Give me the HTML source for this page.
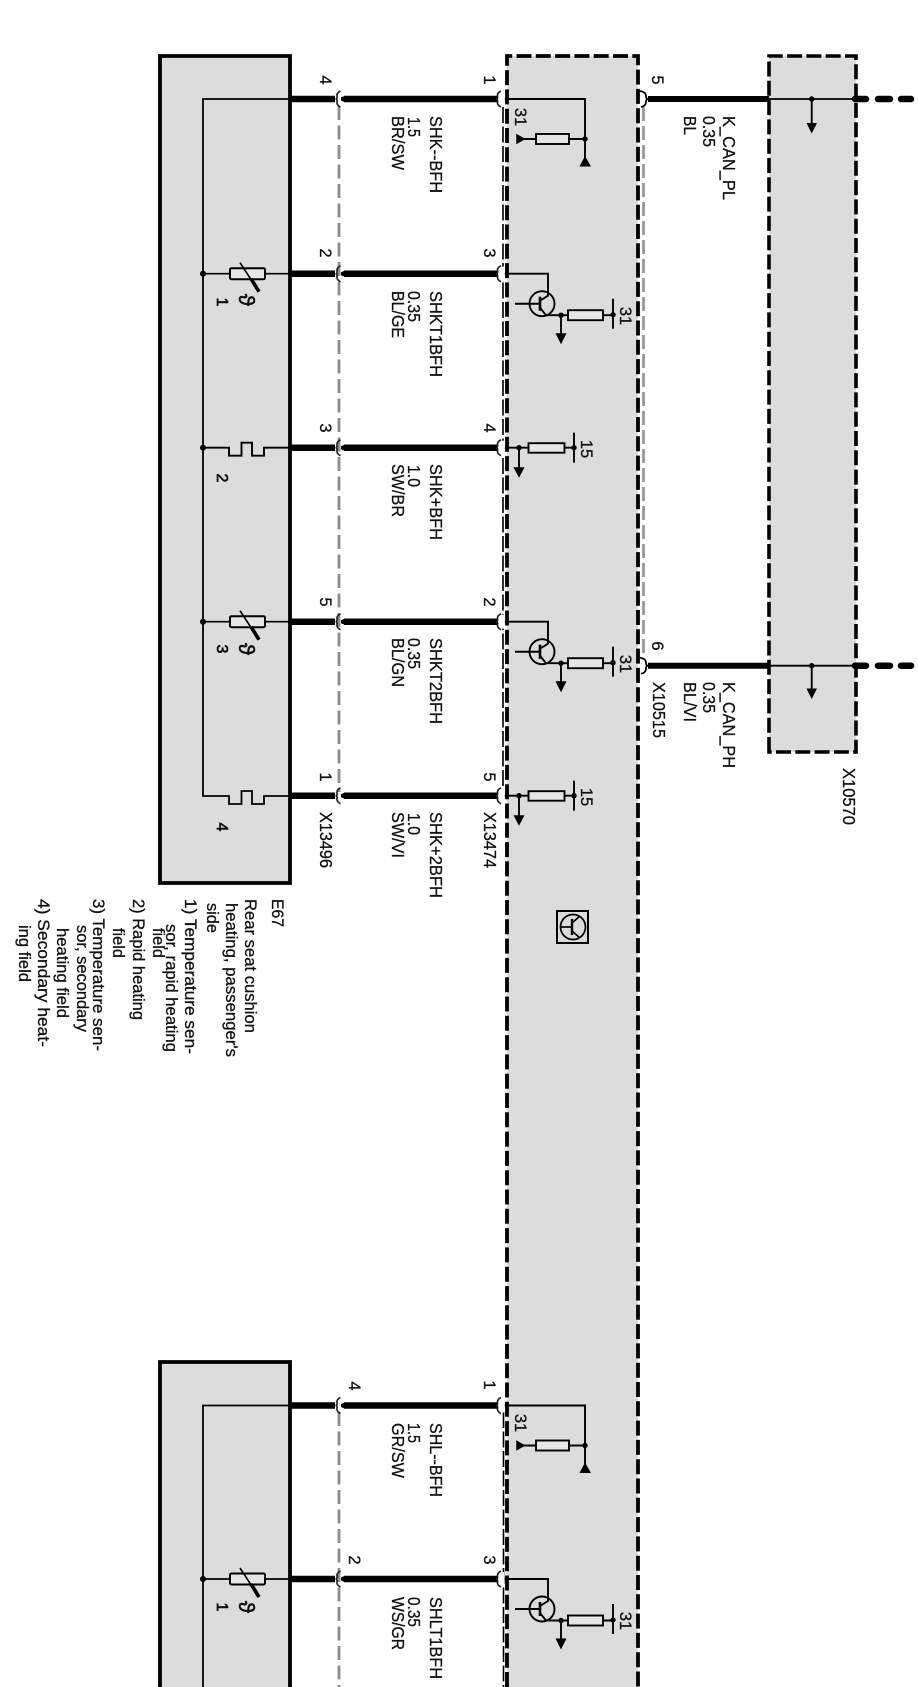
<!DOCTYPE html>
<html><head><meta charset="utf-8"><style>
html,body{margin:0;padding:0;background:#fff}
svg{display:block;filter:blur(.35px)}
text{font-family:"Liberation Sans",sans-serif;font-size:17.5px;fill:#111;stroke:#111;stroke-width:.3}
.p{font-size:16.5px;text-anchor:middle}
.e{font-size:16px;text-anchor:middle;stroke-width:.7}
.s{font-size:22px;text-anchor:middle;stroke-width:.6}
.l{font-size:16.5px}
</style></head><body>
<svg width="918" height="1687" viewBox="0 0 918 1687" xmlns="http://www.w3.org/2000/svg">
<defs>
<g id="lc"><path d="M290 0H335" stroke="#000" stroke-width="6.500"/><path d="M344 0H498" stroke="#000" stroke-width="6.500"/><path d="M341 -1.500L345 -3.200V3.200L341 1.500Z" fill="#000"/><path d="M340.500 -8Q336.500 -6 337 -3Q337.500 0 335.500 0Q337.500 0 337 3Q336.500 6 340.500 8" fill="none" stroke="#222" stroke-width="1.700"/></g>
<g id="rc"><path d="M502 -7V7" stroke="#fff" stroke-width="4"/><path d="M501 -8Q497 -6 497.500 -3Q498 0 496 0Q498 0 497.500 3Q497 6 501 8" fill="none" stroke="#222" stroke-width="1.700"/></g>
<g id="th" fill="none" stroke="#000">
<circle cx="203" cy="0" r="3" fill="#000" stroke="none"/><path d="M203 0H290" stroke-width="1.700"/>
<rect x="230" y="-5.500" width="35" height="11" rx="1.500" fill="#e6e6e6" stroke-width="2"/>
<path d="M240 -11L259 18" stroke-width="1.600"/><path d="M251 5L259 18" stroke-width="3.600"/>
</g>
<g id="hf" fill="none" stroke="#000" stroke-width="1.900">
<circle cx="203" cy="0" r="3" fill="#000" stroke="none"/><path d="M203 0H229V8H241.500V-5H252V8H264V0H290"/>
</g>
<g id="tr" fill="none" stroke="#000" stroke-width="1.900">
<circle cx="507" cy="0" r="2.300" fill="#000" stroke="none"/><path d="M507 0H548V22L540 27"/>
<circle cx="542" cy="30" r="12.500"/><path d="M515 30H540" stroke-width="2"/><path d="M540 23V37" stroke-width="2.600"/><path d="M540 34L546 41.500H561"/>
<circle cx="561" cy="41.500" r="2.700" fill="#000" stroke="none"/><path d="M561 41.500V60"/><path d="M555.500 59.500H566.500L561 70.500Z" fill="#000" stroke="none"/>
<path d="M561 41.500H613"/><rect x="568" y="36.500" width="35" height="10" fill="#e6e6e6" stroke-width="1.900"/>
<path d="M613 25V55"/><circle cx="613" cy="41" r="2.700" fill="#000" stroke="none"/>
</g>
<g id="r15" fill="none" stroke="#000" stroke-width="1.900">
<circle cx="507" cy="0" r="2.300" fill="#000" stroke="none"/><path d="M507 0H574"/><circle cx="519" cy="0" r="2.700" fill="#000" stroke="none"/>
<path d="M519 0V20"/><path d="M513.500 19.500H524.500L519 30Z" fill="#000" stroke="none"/>
<rect x="528.500" y="-4.500" width="36" height="9.500" fill="#e6e6e6"/><path d="M574 -15V15"/><circle cx="574" cy="0" r="2.700" fill="#000" stroke="none"/>
</g>
<g id="gnd" fill="none" stroke="#000" stroke-width="1.900">
<circle cx="507" cy="0" r="2.300" fill="#000" stroke="none"/><path d="M507 0H585V62"/><circle cx="585" cy="40" r="2.700" fill="#000" stroke="none"/>
<path d="M579.500 67.500L585 57L591 67.500Z" fill="#000" stroke="none"/>
<path d="M585 40H521"/><rect x="536" y="35" width="33" height="10" fill="#e6e6e6"/>
<path d="M517 36V44L524 40Z" fill="#000" stroke="#000" stroke-width="1.500"/>
</g>
</defs>

<!-- fills -->
<rect x="160" y="56" width="130" height="827" fill="#dcdcdc"/>
<rect x="160" y="1362" width="130" height="325" fill="#dcdcdc"/>
<rect x="507" y="56" width="131" height="1631" fill="#dcdcdc"/>
<rect x="769" y="56" width="87" height="696" fill="#dcdcdc"/>

<!-- component boxes -->
<path d="M160 56H290V883H160Z" fill="none" stroke="#000" stroke-width="3.800"/>
<path d="M160 1687V1362H290V1687" fill="none" stroke="#000" stroke-width="3.800"/>

<!-- gray & thin dashed connector edges -->
<path d="M339 106V792" stroke="#8c8c8c" stroke-width="2.800" stroke-dasharray="14 5.500"/>
<path d="M339 1412V1687" stroke="#8c8c8c" stroke-width="2.800" stroke-dasharray="14 5.500"/>
<path d="M503 107V790" stroke="#000" stroke-width="1.600" stroke-dasharray="16 3.500"/>
<path d="M503.500 1412V1687" stroke="#000" stroke-width="1.600" stroke-dasharray="16 3.500"/>
<path d="M643.500 107V655" stroke="#999" stroke-width="2.800" stroke-dasharray="14 5"/>

<!-- dashed device boxes -->
<path d="M507 1687V56H638V1687" fill="none" stroke="#000" stroke-width="3.800" stroke-dasharray="15 4.300"/>
<path d="M769 752V56H856V752Z" fill="none" stroke="#000" stroke-width="3.600" stroke-dasharray="15 4.300"/>

<!-- inner lines -->
<path d="M290 99H203V796H229V804H241.500V791H252V804H264V796H290" fill="none" stroke="#000" stroke-width="1.800"/>
<path d="M290 1405.500H203V1687" fill="none" stroke="#000" stroke-width="1.800"/>

<!-- wires -->
<use href="#lc" y="99"/><use href="#lc" y="273.700"/><use href="#lc" y="447.700"/><use href="#lc" y="621.700"/><use href="#lc" y="795.700"/>
<use href="#lc" y="1405.500"/><use href="#lc" y="1579"/>
<use href="#rc" y="99"/><use href="#rc" y="273.700"/><use href="#rc" y="447.700"/><use href="#rc" y="621.700"/><use href="#rc" y="795.700"/>
<use href="#rc" y="1405.500"/><use href="#rc" y="1579"/>

<!-- field elements -->
<use href="#th" y="273.700"/><use href="#hf" y="447.700"/><use href="#th" y="621.700"/><use href="#th" y="1579"/>

<!-- control unit circuits -->
<use href="#gnd" y="99"/><use href="#gnd" y="1405.500"/>
<use href="#tr" y="273.700"/><use href="#tr" y="621.700"/><use href="#tr" y="1579"/>
<use href="#r15" y="447.700"/><use href="#r15" y="795.700"/>

<!-- CAN wires -->
<g fill="none" stroke="#000">
<path d="M640 91Q646 92 646 96Q646 99 648 99Q646 99 646 102Q646 106 641 107" stroke-width="1.700"/>
<path d="M640 657.700Q646 658.700 646 662.700Q646 665.700 648 665.700Q646 665.700 646 668.700Q646 672.700 641 673.700" stroke-width="1.700"/>
<path d="M648 99H769M648 665.700H769" stroke-width="6"/>
<path d="M769 99H856M769 665.700H856" stroke-width="1.800"/>
<path d="M855 99H866M878 99H890M901 99H911M855 665.700H866M878 665.700H890M901 665.700H911" stroke-width="6.500" stroke-linecap="round"/>
<path d="M811.700 99V124M811.700 665.700V690" stroke-width="1.900"/>
</g>
<circle cx="811.700" cy="99" r="2.700"/><circle cx="811.700" cy="665.700" r="2.700"/>
<path d="M806.500 123H817L811.700 133.500ZM806.500 688.500H817L811.700 699Z"/>

<!-- icon -->
<g fill="none" stroke="#000" stroke-width="1.700">
<rect x="557" y="911" width="31" height="32" stroke-width="2"/><circle cx="573" cy="927" r="12.500"/>
<path d="M560 927H572"/><path d="M572 919V935" stroke-width="2.400"/><path d="M572 923L580 916M572 931L580 938"/>
</g>

<!-- wire labels -->
<text transform="translate(430,116) rotate(90)" textLength="77" lengthAdjust="spacingAndGlyphs">SHK--BFH</text>
<text transform="translate(408,117) rotate(90)" textLength="20" lengthAdjust="spacingAndGlyphs">1.5</text>
<text transform="translate(392,116) rotate(90)" textLength="54" lengthAdjust="spacingAndGlyphs">BR/SW</text>
<text transform="translate(430,291) rotate(90)" textLength="86" lengthAdjust="spacingAndGlyphs">SHKT1BFH</text>
<text transform="translate(408,291) rotate(90)" textLength="31" lengthAdjust="spacingAndGlyphs">0.35</text>
<text transform="translate(392,291) rotate(90)" textLength="47" lengthAdjust="spacingAndGlyphs">BL/GE</text>
<text transform="translate(430,464) rotate(90)" textLength="76" lengthAdjust="spacingAndGlyphs">SHK+BFH</text>
<text transform="translate(408,465) rotate(90)" textLength="22" lengthAdjust="spacingAndGlyphs">1.0</text>
<text transform="translate(392,464) rotate(90)" textLength="53" lengthAdjust="spacingAndGlyphs">SW/BR</text>
<text transform="translate(430,638) rotate(90)" textLength="86" lengthAdjust="spacingAndGlyphs">SHKT2BFH</text>
<text transform="translate(408,638) rotate(90)" textLength="31" lengthAdjust="spacingAndGlyphs">0.35</text>
<text transform="translate(392,638) rotate(90)" textLength="49" lengthAdjust="spacingAndGlyphs">BL/GN</text>
<text transform="translate(430,812) rotate(90)" textLength="86" lengthAdjust="spacingAndGlyphs">SHK+2BFH</text>
<text transform="translate(408,813) rotate(90)" textLength="22" lengthAdjust="spacingAndGlyphs">1.0</text>
<text transform="translate(392,812) rotate(90)" textLength="46" lengthAdjust="spacingAndGlyphs">SW/VI</text>
<text transform="translate(320,812) rotate(90)" textLength="56" lengthAdjust="spacingAndGlyphs">X13496</text>
<text transform="translate(484,812) rotate(90)" textLength="56" lengthAdjust="spacingAndGlyphs">X13474</text>

<text transform="translate(723,116) rotate(90)" textLength="84" lengthAdjust="spacingAndGlyphs">K_CAN_PL</text>
<text transform="translate(703,116) rotate(90)" textLength="31" lengthAdjust="spacingAndGlyphs">0.35</text>
<text transform="translate(684,116) rotate(90)" textLength="19" lengthAdjust="spacingAndGlyphs">BL</text>
<text transform="translate(723,682) rotate(90)" textLength="86" lengthAdjust="spacingAndGlyphs">K_CAN_PH</text>
<text transform="translate(703,682) rotate(90)" textLength="31" lengthAdjust="spacingAndGlyphs">0.35</text>
<text transform="translate(684,682) rotate(90)" textLength="40" lengthAdjust="spacingAndGlyphs">BL/VI</text>
<text transform="translate(653,682) rotate(90)" textLength="56" lengthAdjust="spacingAndGlyphs">X10515</text>
<text transform="translate(843,768) rotate(90)" textLength="57" lengthAdjust="spacingAndGlyphs">X10570</text>

<text transform="translate(430,1423) rotate(90)" textLength="74" lengthAdjust="spacingAndGlyphs">SHL--BFH</text>
<text transform="translate(408,1423) rotate(90)" textLength="20" lengthAdjust="spacingAndGlyphs">1.5</text>
<text transform="translate(392,1423) rotate(90)" textLength="55" lengthAdjust="spacingAndGlyphs">GR/SW</text>
<text transform="translate(430,1597) rotate(90)" textLength="82" lengthAdjust="spacingAndGlyphs">SHLT1BFH</text>
<text transform="translate(408,1597) rotate(90)" textLength="30" lengthAdjust="spacingAndGlyphs">0.35</text>
<text transform="translate(392,1597) rotate(90)" textLength="53" lengthAdjust="spacingAndGlyphs">WS/GR</text>

<!-- pin labels -->
<text class="p" transform="translate(320,80) rotate(90)">4</text>
<text class="p" transform="translate(320,253) rotate(90)">2</text>
<text class="p" transform="translate(320,428) rotate(90)">3</text>
<text class="p" transform="translate(320,602) rotate(90)">5</text>
<text class="p" transform="translate(320,777) rotate(90)">1</text>
<text class="p" transform="translate(484,80) rotate(90)">1</text>
<text class="p" transform="translate(484,253) rotate(90)">3</text>
<text class="p" transform="translate(484,428) rotate(90)">4</text>
<text class="p" transform="translate(484,602) rotate(90)">2</text>
<text class="p" transform="translate(484,777) rotate(90)">5</text>
<text class="p" transform="translate(652,80) rotate(90)">5</text>
<text class="p" transform="translate(652,646) rotate(90)">6</text>
<text class="p" transform="translate(349,1386) rotate(90)">4</text>
<text class="p" transform="translate(349,1560) rotate(90)">2</text>
<text class="p" transform="translate(484,1385) rotate(90)">1</text>
<text class="p" transform="translate(484,1560) rotate(90)">3</text>

<!-- element labels -->
<text class="e" transform="translate(217,302) rotate(90)">1</text>
<text class="e" transform="translate(217,478) rotate(90)">2</text>
<text class="e" transform="translate(217,649) rotate(90)">3</text>
<text class="e" transform="translate(217,827) rotate(90)">4</text>
<text class="e" transform="translate(217,1607) rotate(90)">1</text>
<text class="s" transform="translate(239,300) rotate(90)">ϑ</text>
<text class="s" transform="translate(239,649) rotate(90)">ϑ</text>
<text class="s" transform="translate(239,1607) rotate(90)">ϑ</text>

<text class="p" transform="translate(515,117) rotate(90)">31</text>
<text class="p" transform="translate(515,1423) rotate(90)">31</text>
<text class="p" transform="translate(620,316) rotate(90)">31</text>
<text class="p" transform="translate(620,664) rotate(90)">31</text>
<text class="p" transform="translate(620,1621) rotate(90)">31</text>
<text class="p" transform="translate(581,449) rotate(90)">15</text>
<text class="p" transform="translate(581,797) rotate(90)">15</text>

<!-- legend -->
<text class="l" transform="translate(272,899) rotate(90)" textLength="28" lengthAdjust="spacingAndGlyphs">E67</text>
<text class="l" transform="translate(245,899) rotate(90)" textLength="134" lengthAdjust="spacingAndGlyphs">Rear seat cushion</text>
<text class="l" transform="translate(226,903) rotate(90)" textLength="154" lengthAdjust="spacingAndGlyphs">heating, passenger's</text>
<text class="l" transform="translate(207,903) rotate(90)" textLength="30" lengthAdjust="spacingAndGlyphs">side</text>
<text class="l" transform="translate(185,899) rotate(90)" textLength="155" lengthAdjust="spacingAndGlyphs">1) Temperature sen-</text>
<text class="l" transform="translate(166,924) rotate(90)" textLength="128" lengthAdjust="spacingAndGlyphs">sor, rapid heating</text>
<text class="l" transform="translate(153,928) rotate(90)" textLength="30" lengthAdjust="spacingAndGlyphs">field</text>
<text class="l" transform="translate(133,899) rotate(90)" textLength="121" lengthAdjust="spacingAndGlyphs">2) Rapid heating</text>
<text class="l" transform="translate(113,928) rotate(90)" textLength="30" lengthAdjust="spacingAndGlyphs">field</text>
<text class="l" transform="translate(93,899) rotate(90)" textLength="152" lengthAdjust="spacingAndGlyphs">3) Temperature sen-</text>
<text class="l" transform="translate(77,925) rotate(90)" textLength="107" lengthAdjust="spacingAndGlyphs">sor, secondary</text>
<text class="l" transform="translate(57,928) rotate(90)" textLength="90" lengthAdjust="spacingAndGlyphs">heating field</text>
<text class="l" transform="translate(38,899) rotate(90)" textLength="148" lengthAdjust="spacingAndGlyphs">4) Secondary heat-</text>
<text class="l" transform="translate(19,925) rotate(90)" textLength="57" lengthAdjust="spacingAndGlyphs">ing field</text>
</svg>
</body></html>
